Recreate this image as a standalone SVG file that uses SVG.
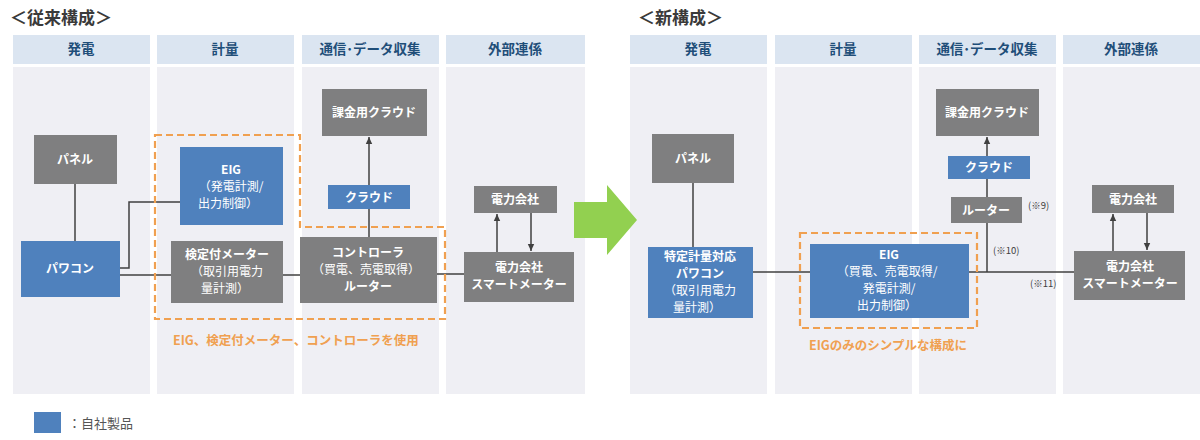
<svg xmlns="http://www.w3.org/2000/svg" width="1200" height="440" viewBox="0 0 1200 440">
<defs>
<style>
text{font-family:"Noto Sans CJK JP","Noto Sans",sans-serif;}
.title{font-size:17px;font-weight:bold;fill:#3a3a3a;}
.hdr{fill:#dbe5f1;}
.body{fill:#efeff4;}
.htxt{font-size:13.5px;font-weight:bold;fill:#1f4e79;text-anchor:middle;}
.gray{fill:#7f7f80;}
.blue{fill:#4f81bd;}
.t{font-size:12px;fill:#ffffff;text-anchor:middle;}
.b{font-weight:bold;}
.line{stroke:#404040;stroke-width:1.5;fill:none;}
.dash{stroke:#f0a050;stroke-width:2.2;fill:none;stroke-dasharray:7,4;}
.note{font-size:12.5px;font-weight:bold;fill:#f0a050;}
.ref{font-size:9.5px;fill:#404040;}
</style>
<marker id="arr" markerWidth="8" markerHeight="8" refX="7" refY="4" orient="auto" markerUnits="userSpaceOnUse">
<path d="M0,0.8 L7,4 L0,7.2 z" fill="#404040"/>
</marker>
</defs>
<rect width="1200" height="440" fill="#ffffff"/>

<!-- titles -->
<text class="title" x="10" y="24">＜従来構成＞</text>
<text class="title" x="638" y="24">＜新構成＞</text>

<!-- columns left -->
<g id="columns-left">
<rect class="hdr" x="13" y="35" width="137" height="29"/>
<rect class="hdr" x="157" y="35" width="137" height="29"/>
<rect class="hdr" x="302" y="35" width="137" height="29"/>
<rect class="hdr" x="446" y="35" width="139" height="29"/>
<rect class="body" x="13" y="67" width="137" height="327"/>
<rect class="body" x="157" y="67" width="137" height="327"/>
<rect class="body" x="302" y="67" width="137" height="327"/>
<rect class="body" x="446" y="67" width="139" height="327"/>
<text class="htxt" x="81" y="54">発電</text>
<text class="htxt" x="225" y="54">計量</text>
<text class="htxt" x="370" y="54">通信･データ収集</text>
<text class="htxt" x="515" y="54">外部連係</text>
</g>

<!-- columns right -->
<g id="columns-right">
<rect class="hdr" x="630" y="35" width="137" height="29"/>
<rect class="hdr" x="775" y="35" width="137" height="29"/>
<rect class="hdr" x="919" y="35" width="137" height="29"/>
<rect class="hdr" x="1063" y="35" width="137" height="29"/>
<rect class="body" x="630" y="67" width="137" height="327"/>
<rect class="body" x="775" y="67" width="137" height="327"/>
<rect class="body" x="919" y="67" width="137" height="327"/>
<rect class="body" x="1063" y="67" width="137" height="327"/>
<text class="htxt" x="698" y="54">発電</text>
<text class="htxt" x="843" y="54">計量</text>
<text class="htxt" x="987" y="54">通信･データ収集</text>
<text class="htxt" x="1131" y="54">外部連係</text>
</g>

<!-- connectors -->
<g id="connectors">
<path class="line" d="M75,184 V241"/>
<path class="line" d="M120,268 H129 V202 H180"/>
<path class="line" d="M120,275 H171"/>
<path class="line" d="M283,275 H300"/>
<path class="line" d="M437,274 H464"/>
<path class="line" d="M369,237 V137" marker-end="url(#arr)"/>
<path class="line" d="M497,252 V214" marker-end="url(#arr)"/>
<path class="line" d="M531,213 V251" marker-end="url(#arr)"/>

<path class="line" d="M693,183 V247"/>
<path class="line" d="M753,272 H810"/>
<path class="line" d="M969,272 H1074"/>
<path class="line" d="M987,272 V137" marker-end="url(#arr)"/>
<path class="line" d="M1113,251 V214" marker-end="url(#arr)"/>
<path class="line" d="M1147,213 V250" marker-end="url(#arr)"/>
</g>

<!-- left nodes -->
<g id="l-panel"><rect class="gray" x="34" y="135" width="83" height="49"/><text class="t b" x="75" y="164">パネル</text></g>
<g id="l-pcs"><rect class="blue" x="21" y="241" width="99" height="56"/><text class="t b" x="70" y="273">パワコン</text></g>
<g id="l-eig"><rect class="blue" x="180" y="147" width="103" height="78"/>
<text class="t b" x="231" y="174">EIG</text>
<text class="t" x="231" y="191">（発電計測/</text>
<text class="t" x="228" y="208">出力制御）</text></g>
<g id="l-meter"><rect class="gray" x="171" y="241" width="112" height="62"/>
<text class="t b" x="227" y="259">検定付メーター</text>
<text class="t" x="227" y="276">（取引用電力</text>
<text class="t" x="225" y="293">量計測）</text></g>
<g id="l-controller"><rect class="gray" x="300" y="237" width="137" height="66"/>
<text class="t b" x="368" y="257">コントローラ</text>
<text class="t" x="366" y="274">（買電、売電取得）</text>
<text class="t b" x="368" y="291">ルーター</text></g>
<g id="l-cloud"><rect class="blue" x="328" y="185" width="82" height="24"/><text class="t b" x="369" y="202">クラウド</text></g>
<g id="l-billing"><rect class="gray" x="322" y="89" width="105" height="47"/><text class="t b" x="374" y="117">課金用クラウド</text></g>
<g id="l-utility"><rect class="gray" x="474" y="186" width="83" height="27"/><text class="t b" x="515" y="204">電力会社</text></g>
<g id="l-smart"><rect class="gray" x="464" y="252" width="110" height="50"/>
<text class="t b" x="519" y="272">電力会社</text>
<text class="t b" x="519" y="289">スマートメーター</text></g>
<g id="l-group">
<path class="dash" d="M155,135 H300 V227 H445 V319 H155 Z"/>
<text class="note" x="173" y="345">EIG、検定付メーター、コントローラを使用</text>
</g>

<!-- big arrow -->
<g id="arrow-transition"><path d="M574,202 H607 V185 L637,220 L607,255 V238 H574 Z" fill="#92d050"/></g>

<!-- right nodes -->
<g id="r-panel"><rect class="gray" x="652" y="134" width="82" height="49"/><text class="t b" x="693" y="163">パネル</text></g>
<g id="r-pcs"><rect class="blue" x="648" y="247" width="105" height="71"/>
<text class="t b" x="700" y="261">特定計量対応</text>
<text class="t b" x="700" y="278">パワコン</text>
<text class="t" x="700" y="295">（取引用電力</text>
<text class="t" x="697" y="312">量計測）</text></g>
<g id="r-eig"><rect class="blue" x="810" y="244" width="159" height="74"/>
<text class="t b" x="889" y="259">EIG</text>
<text class="t" x="887" y="276">（買電、売電取得/</text>
<text class="t" x="889" y="293">発電計測/</text>
<text class="t" x="887" y="310">出力制御）</text></g>
<g id="r-group">
<rect class="dash" x="800" y="233" width="177" height="95"/>
<text class="note" x="809" y="350">EIGのみのシンプルな構成に</text>
</g>
<g id="r-router"><rect class="gray" x="951" y="197" width="71" height="26"/><text class="t b" x="986" y="215">ルーター</text></g>
<g id="r-cloud"><rect class="blue" x="948" y="156" width="82" height="23"/><text class="t b" x="989" y="172">クラウド</text></g>
<g id="r-billing"><rect class="gray" x="936" y="89" width="103" height="47"/><text class="t b" x="987" y="117">課金用クラウド</text></g>
<g id="r-utility"><rect class="gray" x="1092" y="185" width="82" height="28"/><text class="t b" x="1133" y="204">電力会社</text></g>
<g id="r-smart"><rect class="gray" x="1074" y="251" width="111" height="49"/>
<text class="t b" x="1130" y="271">電力会社</text>
<text class="t b" x="1130" y="288">スマートメーター</text></g>
<g id="refs">
<text class="ref" x="1028" y="209">(※9)</text>
<text class="ref" x="993" y="254">(※10)</text>
<text class="ref" x="1030" y="287">(※11)</text>
</g>

<!-- legend -->
<g id="legend">
<rect class="blue" x="34" y="412" width="27" height="21"/>
<text x="68" y="428" font-size="13" fill="#555555">：自社製品</text>
</g>
</svg>
